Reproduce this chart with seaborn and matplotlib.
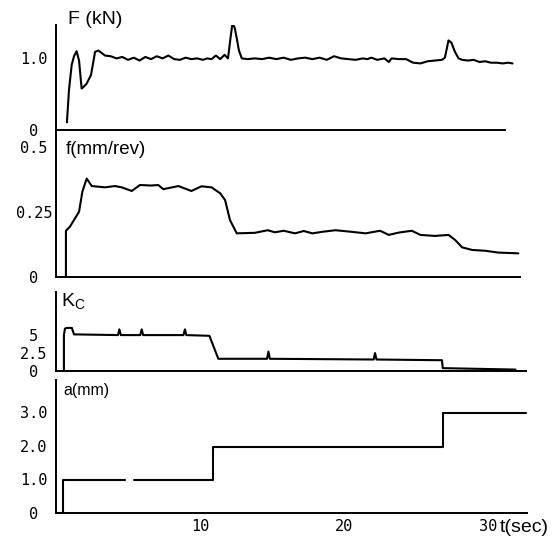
import numpy as np
import pandas as pd
import matplotlib
matplotlib.use('Agg')
import matplotlib.pyplot as plt
import seaborn as sns

# cutting force F (kN)
t_F = [0.76, 0.9, 1.09, 1.25, 1.43, 1.6, 1.78, 1.95, 2.13, 2.43, 2.6, 2.71, 2.94,
       3.4, 3.8, 4.2, 4.6, 5.0, 5.4, 5.8, 6.2, 6.6, 7.0, 7.4, 7.8, 8.2, 8.6, 9.0,
       9.4, 9.8, 10.2, 10.5, 10.8, 11.1, 11.4, 11.7, 11.94, 12.1, 12.25, 12.4,
       12.55, 12.7, 12.9, 13.3, 13.8, 14.3, 14.8, 15.3, 15.8, 16.3, 16.8, 17.3,
       17.8, 18.3, 18.8, 19.3, 19.8, 20.3, 20.8, 21.3, 21.6, 21.9, 22.3, 22.8,
       23.1, 23.3, 23.8, 24.3, 24.8, 25.3, 25.8, 26.3, 26.8, 27.0, 27.25, 27.45,
       27.7, 27.95, 28.2, 28.6, 29.0, 29.4, 29.8, 30.2, 30.6, 31.0, 31.4, 31.7]
F = [0.10, 0.55, 0.90, 1.02, 1.09, 0.96, 0.57, 0.60, 0.64, 0.76, 0.95, 1.08, 1.10,
     1.03, 1.02, 0.99, 1.01, 0.97, 1.00, 0.96, 1.01, 0.98, 1.02, 0.99, 1.03, 0.98,
     0.97, 1.00, 0.98, 0.99, 0.97, 0.99, 0.98, 1.03, 0.98, 1.04, 0.99, 1.25, 1.48,
     1.42, 1.27, 1.10, 0.99, 0.98, 0.99, 0.98, 1.00, 0.98, 1.00, 0.97, 0.99, 1.00,
     0.98, 1.00, 0.97, 1.02, 0.99, 0.98, 0.97, 0.99, 0.98, 1.00, 0.97, 0.99,
     0.94, 0.99, 0.98, 0.98, 0.93, 0.92, 0.95, 0.96, 0.97, 1.00, 1.24, 1.21,
     1.08, 0.99, 0.97, 0.96, 0.97, 0.94, 0.95, 0.93, 0.93, 0.92, 0.93, 0.92]

# feed f (mm/rev)
t_f = [0.69, 0.69, 0.97, 1.6, 1.83, 2.13, 2.48, 3.4, 4.1, 4.56, 5.26, 5.83, 6.6,
       7.1, 7.45, 8.5, 9.4, 10.1, 10.8, 11.4, 11.74, 12.08, 12.55, 13.8, 14.7,
       15.2, 15.8, 16.6, 17.2, 17.8, 18.5, 19.4, 20.5, 21.5, 22.5, 23.1, 23.8,
       24.7, 25.3, 26.3, 27.25, 27.7, 28.2, 28.9, 29.8, 30.7, 32.1]
f = [0.0, 0.178, 0.194, 0.251, 0.328, 0.379, 0.35, 0.345, 0.35, 0.345, 0.331,
     0.354, 0.352, 0.354, 0.338, 0.35, 0.331, 0.349, 0.345, 0.322, 0.296, 0.219,
     0.168, 0.17, 0.18, 0.172, 0.178, 0.168, 0.177, 0.168, 0.174, 0.18, 0.174,
     0.168, 0.178, 0.162, 0.171, 0.178, 0.162, 0.158, 0.162, 0.143, 0.114, 0.104,
     0.101, 0.094, 0.091]

# cutting coefficient Kc
t_K = [0.55, 0.55, 0.62, 0.75, 1.1, 1.25, 4.3, 4.4, 4.5, 5.85, 5.95, 6.05, 8.85,
       8.95, 9.05, 10.65, 11.27, 14.65, 14.75, 14.85, 22.05, 22.15, 22.25, 26.8,
       26.85, 31.9]
Kc = [0.0, 5.0, 5.9, 6.0, 6.0, 5.1, 5.0, 5.8, 5.0, 5.0, 5.8, 5.0, 5.0, 5.8, 5.0,
      4.9, 1.7, 1.7, 2.7, 1.7, 1.6, 2.5, 1.6, 1.5, 0.4, 0.2]

# depth of cut a (mm), two traced pieces (break in the record near t = 5 s)
t_a = [0.0, 0.5, 0.5, 4.8, 5.4, 10.9, 10.9, 26.9, 26.9, 32.6]
a = [0.0, 0.0, 0.98, 0.98, 0.98, 0.98, 1.96, 1.96, 2.97, 2.97]
a_piece = [0, 0, 0, 0, 1, 1, 1, 1, 1, 1]

yticks = {
    'F': ([0, 1.0], ['0', '1.0']),
    'f': ([0, 0.25, 0.5], ['0', '0.25', '0.5']),
    'K': ([0, 2.5, 5], ['0', '2.5', '5']),
    'a': ([0, 1.0, 2.0, 3.0], ['0', '1.0', '2.0', '3.0']),
}
xticks = [10, 20, 30]


def px_box(top, bottom, left=56, right=527, W=559, H=545):
    return [left / W, 1 - bottom / H, (right - left) / W, (bottom - top) / H]


def style_axis(ax, ylim, key, spine_end):
    ax.set_xlim(0, 32.7)
    ax.set_ylim(*ylim)
    for s in ['top', 'right']:
        ax.spines[s].set_visible(False)
    for s in ['left', 'bottom']:
        ax.spines[s].set_color('black')
        ax.spines[s].set_linewidth(1.4)
    ax.spines['bottom'].set_bounds(0, spine_end)
    ticks, labels = yticks[key]
    ax.set_yticks(ticks)
    ax.set_yticklabels(labels, family='DejaVu Sans Mono', fontsize=11, color='black')
    for lab in ax.get_yticklabels():
        lab.set_horizontalalignment('center')
    ax.tick_params(axis='y', direction='inout', length=4, width=1, pad=14,
                   colors='black')
    ax.set_xlabel('')
    ax.set_ylabel('')


def main():
    sns.set_style('white')
    plt.rcParams['font.family'] = ['Liberation Sans', 'DejaVu Sans']
    plt.rcParams['text.color'] = 'black'

    fig = plt.figure(figsize=(5.59, 5.45), dpi=100)
    lw = 1.5

    # F panel
    ax1 = fig.add_axes(px_box(25, 129.5))
    sns.lineplot(x=t_F, y=F, ax=ax1, color='black', lw=lw, estimator=None, sort=False)
    style_axis(ax1, (0, 1.455), 'F', 31.2)
    ax1.set_xticks([])

    # f panel
    ax2 = fig.add_axes(px_box(132, 277))
    sns.lineplot(x=t_f, y=f, ax=ax2, color='black', lw=lw, estimator=None, sort=False)
    style_axis(ax2, (0, 0.558), 'f', 32.2)
    ax2.set_xticks([])

    # Kc panel
    ax3 = fig.add_axes(px_box(292, 371))
    sns.lineplot(x=t_K, y=Kc, ax=ax3, color='black', lw=lw, estimator=None, sort=False)
    style_axis(ax3, (0, 11.0), 'K', 32.6)
    ax3.set_xticks([])

    # a panel
    ax4 = fig.add_axes(px_box(380, 513))
    df_a = pd.DataFrame({'t': t_a, 'a': a, 'piece': a_piece})
    sns.lineplot(data=df_a, x='t', y='a', units='piece', estimator=None, sort=False,
                 ax=ax4, color='black', lw=lw)
    style_axis(ax4, (0, 3.95), 'a', 32.7)
    ax4.set_xticks(xticks)
    ax4.set_xticklabels([str(v) for v in xticks], family='DejaVu Sans Mono',
                        fontsize=11, color='black')
    ax4.tick_params(axis='x', direction='in', length=3, width=1, pad=4, colors='black')

    W, H = 559, 545
    fig.text(68 / W, 1 - 20 / H, 'F (kN)', va='center', ha='left', fontsize=14, color='black')
    fig.text(66 / W, 1 - 150 / H, 'f(mm/rev)', va='center', ha='left', fontsize=13.5, color='black')
    fig.text(61 / W, 1 - 302 / H, 'K$_\\mathregular{C}$', va='center', ha='left', fontsize=14, color='black')
    fig.text(63 / W, 1 - 390 / H, 'a(mm)', va='center', ha='left', fontsize=11.5, color='black')
    fig.text(500 / W, 1 - 527 / H, 't(sec)', va='center', ha='left', fontsize=14, color='black')

    fig.savefig('out.png', dpi=100)


if __name__ == '__main__':
    main()
